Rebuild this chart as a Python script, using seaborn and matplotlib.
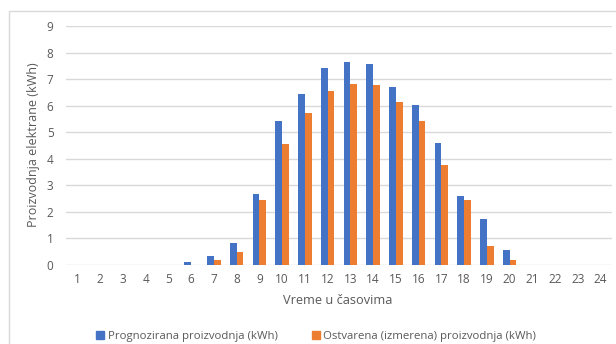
import pandas as pd
import seaborn as sns
import matplotlib.pyplot as plt
from matplotlib.patches import Rectangle, Patch

hours = [str(h) for h in range(1, 25)]
forecast = [0, 0, 0, 0, 0, 0.10, 0.33, 0.83, 2.69, 5.41, 6.43, 7.40,
            7.65, 7.56, 6.72, 6.03, 4.61, 2.59, 1.73, 0.55, 0, 0, 0, 0]
measured = [0, 0, 0, 0, 0, 0, 0.20, 0.49, 2.44, 4.54, 5.72, 6.57,
            6.81, 6.78, 6.12, 5.41, 3.77, 2.44, 0.73, 0.20, 0, 0, 0, 0]
series = ['Prognozirana proizvodnja (kWh)',
          'Ostvarena (izmerena) proizvodnja (kWh)']

df = pd.DataFrame({
    'hour': hours * 2,
    'value': forecast + measured,
    'series': [series[0]] * 24 + [series[1]] * 24,
})

sns.set_theme(style="white")
plt.rcParams['font.family'] = ['Open Sans', 'DejaVu Sans']
txt = '#595959'
palette = {series[0]: '#4472C4', series[1]: '#ED7D31'}

fig = plt.figure(figsize=(6.16, 3.44), dpi=100)
# light chart-area frame, clipped by the image on the right and bottom
fig.patches.append(Rectangle((9 / 616, -0.1), 1.2, 1 - 11 / 344 + 0.1,
                             transform=fig.transFigure, fill=False,
                             edgecolor='#d9d9d9', linewidth=1))
ax = fig.add_axes([66 / 616, 1 - 265 / 344, 546 / 616, 239 / 344])

sns.barplot(data=df, x='hour', y='value', hue='series', palette=palette,
            width=0.6, gap=0, ax=ax, legend=False, saturation=1,
            linewidth=0, edgecolor='none')

ax.set_ylim(0, 9)
ax.set_yticks(range(0, 10))
ax.yaxis.grid(True, color='#d9d9d9', linewidth=1)
ax.set_axisbelow(True)
for s in ax.spines.values():
    s.set_visible(False)
ax.tick_params(axis='both', length=0, labelsize=8.5, colors=txt, pad=6)
ax.tick_params(axis='y', pad=9)
ax.set_xlabel('')
ax.set_ylabel('')

fig.text(338 / 616, 1 - 300 / 344, 'Vreme u časovima', ha='center',
         va='center', fontsize=9.2, color=txt)
fig.text(34 / 616, 1 - 145 / 344, 'Proizvodnja elektrane (kWh)', ha='center',
         va='center', rotation=90, fontsize=9, color=txt)

handles = [Patch(color=palette[s], label=s) for s in series]
fig.legend(handles=handles, loc='center', bbox_to_anchor=(316 / 616, 1 - 336 / 344),
           ncol=2, frameon=False, fontsize=8.2, labelcolor=txt,
           handlelength=0.7, handleheight=0.7, handletextpad=0.3, columnspacing=3.0,
           borderpad=0)

fig.savefig('out.png', dpi=100)
